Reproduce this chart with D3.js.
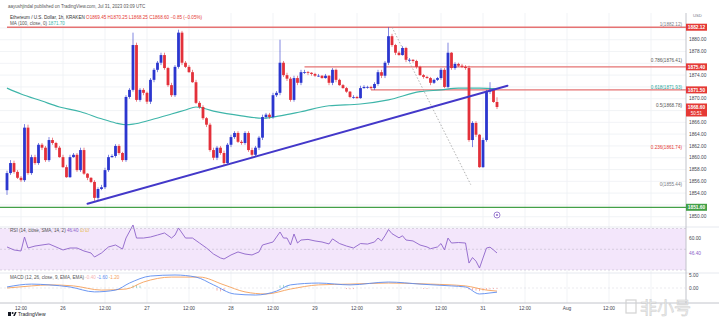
<!DOCTYPE html>
<html>
<head>
<meta charset="utf-8">
<script src="https://cdn.jsdelivr.net/npm/d3@7.9.0/dist/d3.min.js"></script>
<style>
  html, body { margin: 0; padding: 0; background: #fff; }
  svg { display: block; font-family: "Liberation Sans", Arial, sans-serif; }
</style>
</head>
<body>
<svg id="chart" width="719" height="326"></svg>
<script>
// ETH/USD 1h candles, first bar Jul 25 08:00 UTC
const firstBar = Date.UTC(2023, 6, 25, 8);
const HOUR = 3600e3;

const opens = [
  1854.5, 1857.4, 1859.1, 1857.6, 1856.6, 1856.2, 1865.1, 1857.4, 1860.1, 1859.1,
  1862.2, 1861.7, 1859.6, 1863.0, 1862.5, 1861.7, 1860.1, 1858.4, 1856.7, 1860.1,
  1860.5, 1857.9, 1861.3, 1857.3, 1856.6, 1855.9, 1853.2, 1854.7, 1855.0, 1857.9,
  1860.1, 1860.3, 1862.0, 1860.8, 1859.6, 1870.3, 1871.5, 1879.1, 1869.8, 1871.5,
  1871.0, 1869.5, 1873.2, 1874.9, 1876.1, 1877.4, 1875.2, 1872.3, 1870.6, 1875.4,
  1881.2, 1876.1, 1875.4, 1874.5, 1872.8, 1869.3, 1868.6, 1866.7, 1865.6, 1861.3,
  1860.0, 1861.7, 1860.8, 1859.1, 1862.2, 1863.5, 1864.2, 1862.7, 1862.5, 1864.2,
  1861.3, 1860.5, 1861.7, 1863.4, 1866.9, 1867.3, 1866.9, 1870.6, 1871.0, 1876.1,
  1874.0, 1873.4, 1869.8, 1873.5, 1872.7, 1874.5, 1874.5, 1874.4, 1874.2, 1873.9,
  1873.9, 1873.5, 1873.9, 1872.7, 1874.9, 1873.2, 1872.3, 1871.8, 1871.2, 1870.3,
  1870.3, 1870.1, 1871.8, 1872.0, 1872.0, 1871.8, 1872.5, 1874.5, 1873.9, 1876.1,
  1880.6, 1879.1, 1877.8, 1877.4, 1878.6, 1876.6, 1876.6, 1876.4, 1875.4, 1874.0,
  1873.7, 1873.5, 1872.7, 1873.2, 1873.5, 1874.9, 1872.0, 1877.8, 1875.2, 1875.9,
  1875.6, 1875.4, 1875.2, 1863.0, 1865.9, 1863.9, 1858.4, 1863.0, 1871.2, 1871.5,
  1869.45
];
const highs = [
  1857.8, 1859.6, 1859.5, 1857.9, 1856.9, 1865.7, 1865.6, 1860.5, 1860.5, 1862.5,
  1862.5, 1862.0, 1863.5, 1863.4, 1862.7, 1862.0, 1860.5, 1858.8, 1860.5, 1860.8,
  1860.8, 1861.7, 1861.7, 1857.4, 1856.7, 1856.2, 1855.0, 1855.4, 1858.3, 1860.5,
  1860.6, 1862.3, 1862.3, 1861.0, 1870.6, 1871.8, 1881.2, 1879.5, 1871.8, 1871.8,
  1871.2, 1873.5, 1875.2, 1876.4, 1877.8, 1877.8, 1875.4, 1872.7, 1875.7, 1881.7,
  1881.5, 1876.4, 1875.7, 1874.9, 1873.2, 1869.6, 1868.9, 1866.9, 1865.9, 1861.7,
  1862.0, 1862.0, 1861.2, 1862.5, 1863.9, 1864.5, 1864.5, 1863.0, 1864.5, 1864.5,
  1861.7, 1862.0, 1863.7, 1867.3, 1867.6, 1867.6, 1871.0, 1871.3, 1880.0, 1876.4,
  1874.4, 1873.7, 1873.9, 1873.9, 1874.9, 1874.9, 1874.7, 1874.5, 1874.4, 1874.2,
  1874.0, 1874.2, 1874.0, 1875.2, 1875.1, 1873.4, 1872.5, 1872.0, 1871.3, 1870.6,
  1870.5, 1872.2, 1872.3, 1872.2, 1872.2, 1872.8, 1874.9, 1874.9, 1876.4, 1882.1,
  1881.0, 1879.3, 1878.1, 1878.9, 1878.8, 1876.9, 1876.7, 1876.6, 1875.6, 1874.2,
  1873.9, 1873.7, 1873.4, 1873.7, 1875.2, 1875.2, 1879.5, 1877.9, 1876.2, 1876.1,
  1875.9, 1875.7, 1875.6, 1866.2, 1866.2, 1864.0, 1863.4, 1871.5, 1872.8, 1871.7,
  1870.25
];
const lows = [
  1853.7, 1857.1, 1857.3, 1856.4, 1855.9, 1855.9, 1857.1, 1857.1, 1858.8, 1858.8,
  1861.3, 1859.3, 1859.3, 1862.2, 1861.3, 1860.0, 1858.3, 1856.6, 1856.6, 1860.0,
  1857.6, 1857.6, 1857.1, 1856.2, 1855.7, 1852.7, 1852.8, 1854.5, 1854.7, 1857.6,
  1860.0, 1860.0, 1860.5, 1859.3, 1859.3, 1870.0, 1871.2, 1869.5, 1869.5, 1870.6,
  1869.1, 1869.1, 1872.8, 1874.5, 1875.7, 1874.9, 1872.0, 1870.3, 1870.3, 1875.1,
  1875.7, 1875.2, 1874.4, 1872.7, 1869.1, 1868.3, 1866.4, 1865.2, 1861.0, 1859.6,
  1859.6, 1860.5, 1858.6, 1858.8, 1861.8, 1863.2, 1862.5, 1862.2, 1862.2, 1861.0,
  1860.1, 1860.1, 1861.3, 1863.0, 1866.6, 1866.6, 1866.6, 1870.3, 1870.6, 1873.7,
  1873.0, 1869.5, 1869.5, 1872.3, 1872.3, 1874.2, 1874.0, 1873.9, 1873.7, 1873.7,
  1873.4, 1873.4, 1872.3, 1872.3, 1872.8, 1872.2, 1871.7, 1871.0, 1870.1, 1870.0,
  1870.0, 1870.0, 1871.7, 1871.7, 1871.5, 1871.5, 1872.2, 1873.5, 1873.5, 1875.7,
  1878.8, 1877.4, 1877.3, 1877.3, 1876.2, 1876.2, 1876.1, 1875.1, 1873.9, 1873.4,
  1873.4, 1872.3, 1872.5, 1873.0, 1873.2, 1871.8, 1871.8, 1874.9, 1874.9, 1875.4,
  1875.2, 1874.9, 1862.7, 1861.8, 1863.5, 1858.3, 1858.3, 1862.7, 1870.8, 1869.3,
  1868.25
];
const closes = [
  1857.4, 1859.1, 1857.6, 1856.6, 1856.2, 1865.1, 1857.4, 1860.1, 1859.1, 1862.2,
  1861.7, 1859.6, 1863.0, 1862.5, 1861.7, 1860.1, 1858.4, 1856.7, 1860.1, 1860.5,
  1857.9, 1861.3, 1857.3, 1856.6, 1855.9, 1853.2, 1854.7, 1855.0, 1857.9, 1860.1,
  1860.3, 1862.0, 1860.8, 1859.6, 1870.3, 1871.5, 1879.1, 1869.8, 1871.5, 1871.0,
  1869.5, 1873.2, 1874.9, 1876.1, 1877.4, 1875.2, 1872.3, 1870.6, 1875.4, 1881.2,
  1876.1, 1875.4, 1874.5, 1872.8, 1869.3, 1868.6, 1866.7, 1865.6, 1861.3, 1860.0,
  1861.7, 1860.8, 1859.1, 1862.2, 1863.5, 1864.2, 1862.7, 1862.5, 1864.2, 1861.3,
  1860.5, 1861.7, 1863.4, 1866.9, 1867.3, 1866.9, 1870.6, 1871.0, 1876.1, 1874.0,
  1873.4, 1869.8, 1873.5, 1872.7, 1874.5, 1874.5, 1874.4, 1874.2, 1873.9, 1873.9,
  1873.5, 1873.9, 1872.7, 1874.9, 1873.2, 1872.3, 1871.8, 1871.2, 1870.3, 1870.3,
  1870.1, 1871.8, 1872.0, 1872.0, 1871.8, 1872.5, 1874.5, 1873.9, 1876.1, 1880.6,
  1879.1, 1877.8, 1877.4, 1878.6, 1876.6, 1876.6, 1876.4, 1875.4, 1874.0, 1873.7,
  1873.5, 1872.7, 1873.2, 1873.5, 1874.9, 1872.0, 1877.8, 1875.2, 1875.9, 1875.6,
  1875.4, 1875.2, 1863.0, 1865.9, 1863.9, 1858.4, 1863.0, 1871.2, 1871.5, 1869.45,
  1868.60
];

// 100 SMA, read at bar indexes
const smaIdx = [0, 4, 10, 15, 21, 27, 31, 34, 36, 41, 47, 51, 54, 59, 67, 73, 78, 84, 92, 101, 109, 118, 124, 129, 135, 140];
const smaVal = [1871.8, 1870.8, 1869.6, 1868.6, 1867.8, 1866.6, 1865.9, 1865.6, 1865.7, 1866.4, 1867.4, 1868.1, 1868.6,
  1867.9, 1867.1, 1866.7, 1867.1, 1867.8, 1868.8, 1869.1, 1869.8, 1871.2, 1871.5, 1871.8, 1871.8, 1871.7];

// RSI(14)
const rsiIdx = [0, 2, 4, 5, 6, 8, 10, 12, 14, 16, 18, 20, 22, 24, 25, 27, 29, 31, 33, 34, 36, 37, 39, 41, 43, 45, 47, 48, 49, 51,
  53, 55, 57, 59, 61, 62, 64, 66, 68, 70, 72, 73, 76, 77, 78, 79, 80, 81, 82, 83, 84, 86, 88, 90, 92, 93, 95, 97, 99, 101,
  103, 105, 106, 107, 108, 109, 110, 112, 113, 114, 116, 118, 120, 121, 123, 124, 125, 126, 127, 129, 131, 132, 133, 134, 135, 136, 137, 138, 139, 140];
const rsiVal = [52.2, 49.3, 48.3, 61.8, 51.2, 53.1, 54.1, 55.1, 52.2, 49.3, 51.2, 51.2, 48.3, 46.4, 42.5, 46.4, 52.2, 54.1, 50.2, 60.8,
  73.4, 60.8, 60.8, 61.8, 63.7, 65.7, 60.8, 63.7, 70.5, 60.8, 60.8, 56.0, 51.2, 45.4, 41.6, 40.6, 44.5, 47.4, 45.4, 44.5,
  47.4, 54.1, 57.0, 61.8, 66.6, 60.8, 60.8, 54.1, 64.7, 56.0, 58.9, 59.5, 58.0, 57.0, 55.1, 60.0, 55.5, 53.1, 51.2, 55.5,
  55.0, 57.0, 60.8, 58.0, 63.0, 69.0, 65.0, 61.0, 63.0, 58.9, 58.0, 54.1, 52.2, 50.5, 52.2, 55.5, 49.3, 60.8, 56.0, 56.5,
  56.0, 36.7, 42.0, 38.5, 31.9, 41.6, 51.2, 52.0, 49.3, 46.4];

// MACD(12, 26, 9)
const macdIdx = [0, 7, 12, 18, 25, 31, 35, 41, 48, 54, 59, 65, 71, 77, 81, 89, 98, 109, 118, 127, 131, 135, 138, 140];
const macdVal = [0.4, 1.5, 1.2, 0.4, -1.5, -0.8, 1.9, 4.6, 5.0, 4.2, 1.2, -2.3, -2.7, -1.2, 1.2, 1.9, 1.2, 2.3, 1.5, 0.8, 0.4, -2.3, -1.9, -1.6];
const signalIdx = [0, 7, 12, 19, 27, 34, 39, 47, 55, 62, 68, 74, 81, 89, 98, 109, 121, 131, 137, 140];
const signalVal = [0.0, 0.8, 1.2, 0.8, -0.8, -0.4, 2.3, 4.2, 4.2, 1.2, -1.5, -2.3, -0.4, 1.2, 1.5, 1.9, 1.5, 0.8, -0.8, -1.2];
const histIdx = [36, 37, 38, 60, 61, 62, 78, 79, 80, 97, 98, 99, 119, 120, 132, 133, 134, 135, 136, 137, 138, 139, 140];
const histVal = [1.0, 1.2, 0.9, -1.0, -1.3, -1.1, 1.0, 1.2, 0.8, -0.4, -0.5, -0.4, -0.3, -0.4, -0.6, -0.9, -1.0, -1.2, -1.0, -0.7, -0.5, -0.4, -0.4];

// drawings
const trendIdx = [23, 143];
const trendVal = [1852.2, 1872.2];
const fibIdx = [110, 132.5];
const fibHigh = 1882.12, fibLow = 1855.44;
const fibLevels = [1, 0.786, 0.618, 0.5, 0.236, 0];
const fibColors = ['#787b86', '#555', '#26a69a', '#555', '#e53935', '#787b86'];
const redLines = [1882.12, 1875.40, 1871.50];
const redStart = [0, 85, 104];
const supportLine = 1851.60;

const priceTicks = [1850, 1852, 1854, 1856, 1858, 1860, 1862, 1864, 1866, 1868, 1870, 1872, 1874, 1876, 1878, 1880, 1882];

// ---------------------------------------------------------------
const svg = d3.select('#chart');
const right = 686;
const barTime = i => new Date(firstBar + i * HOUR);

const x = d3.scaleUtc()
  .domain([Date.UTC(2023, 6, 25, 6), Date.UTC(2023, 7, 2, 10)])
  .range([0, right]);
const y = d3.scaleLinear().domain([1848.43, 1884.53]).range([226, 13]);
const yRsi = d3.scaleLinear().domain([30, 70]).range([270, 228.5]);
const yMacd = d3.scaleLinear().domain([-5, 5]).range([301, 275]);

const defs = svg.append('defs');
defs.append('clipPath').attr('id', 'clipMain')
  .append('rect').attr('x', 0).attr('y', 13).attr('width', right).attr('height', 213);

svg.append('rect').attr('width', 719).attr('height', 326).attr('fill', '#fff');

// grid
const timeTicks = x.ticks(d3.utcHour.every(12));
svg.append('g').selectAll('line').data(timeTicks).join('line')
  .attr('x1', d => x(d)).attr('x2', d => x(d))
  .attr('y1', 13).attr('y2', 303)
  .attr('stroke', '#eef0f4').attr('stroke-width', 0.8);
svg.append('g').selectAll('line').data(priceTicks).join('line')
  .attr('x1', 0).attr('x2', right)
  .attr('y1', d => y(d)).attr('y2', d => y(d))
  .attr('stroke', '#eef0f4').attr('stroke-width', 0.8);

// RSI band
svg.append('rect').attr('x', 0).attr('width', right)
  .attr('y', yRsi(70)).attr('height', yRsi(30) - yRsi(70))
  .attr('fill', '#f3e6fb');
[70, 50, 30].forEach(v => {
  svg.append('line').attr('x1', 0).attr('x2', right)
    .attr('y1', yRsi(v)).attr('y2', yRsi(v))
    .attr('stroke', '#b8b0c4').attr('stroke-width', 0.5)
    .attr('stroke-dasharray', '2,2');
});

// pane separators and axes borders
[227, 273].forEach(v => svg.append('line').attr('x1', 0).attr('x2', 719)
  .attr('y1', v).attr('y2', v).attr('stroke', '#e0e3eb').attr('stroke-width', 0.8));
svg.append('line').attr('x1', 0).attr('x2', 719).attr('y1', 303).attr('y2', 303)
  .attr('stroke', '#b2b5be').attr('stroke-width', 0.8);
svg.append('line').attr('x1', right).attr('x2', right).attr('y1', 13).attr('y2', 303)
  .attr('stroke', '#b2b5be').attr('stroke-width', 0.8);
svg.append('line').attr('x1', 0).attr('x2', right).attr('y1', yMacd(0)).attr('y2', yMacd(0))
  .attr('stroke', '#d5d7dd').attr('stroke-width', 0.5).attr('stroke-dasharray', '2,2');

// main pane
const main = svg.append('g').attr('clip-path', 'url(#clipMain)');

// horizontal levels
redLines.forEach((v, k) => {
  main.append('line')
    .attr('x1', x(barTime(redStart[k]))).attr('x2', right)
    .attr('y1', y(v)).attr('y2', y(v))
    .attr('stroke', '#e57373').attr('stroke-width', 1.4);
});
main.append('line').attr('x1', 0).attr('x2', right)
  .attr('y1', y(supportLine)).attr('y2', y(supportLine))
  .attr('stroke', '#43a047').attr('stroke-width', 1.2);

// 100 SMA
const sma = smaIdx.map((d, k) => [barTime(d), smaVal[k]]);
main.append('path').datum(sma)
  .attr('fill', 'none').attr('stroke', '#3eb5a9').attr('stroke-width', 1.1)
  .attr('d', d3.line().x(d => x(d[0])).y(d => y(d[1])).curve(d3.curveMonotoneX));

// fib diagonal
main.append('line')
  .attr('x1', x(barTime(fibIdx[0]))).attr('y1', y(fibHigh))
  .attr('x2', x(barTime(fibIdx[1]))).attr('y2', y(fibLow))
  .attr('stroke', '#9e9e9e').attr('stroke-width', 0.8).attr('stroke-dasharray', '1.5,1.8');

// candles
const bars = d3.range(opens.length);
const upCol = '#2b36cf', downCol = '#e3303a';
const colOf = i => closes[i] >= opens[i] ? upCol : downCol;
main.append('g').selectAll('line').data(bars).join('line')
  .attr('x1', i => x(barTime(i))).attr('x2', i => x(barTime(i)))
  .attr('y1', i => y(highs[i])).attr('y2', i => y(lows[i]))
  .attr('stroke', colOf).attr('stroke-width', 0.6);
main.append('g').selectAll('rect').data(bars).join('rect')
  .attr('x', i => x(barTime(i)) - 1.4).attr('width', 2.8)
  .attr('y', i => y(Math.max(opens[i], closes[i])))
  .attr('height', i => Math.max(0.8, y(Math.min(opens[i], closes[i])) - y(Math.max(opens[i], closes[i]))))
  .attr('fill', colOf);

// trend line
main.append('line')
  .attr('x1', x(barTime(trendIdx[0]))).attr('y1', y(trendVal[0]))
  .attr('x2', x(barTime(trendIdx[1]))).attr('y2', y(trendVal[1]))
  .attr('stroke', '#4338c9').attr('stroke-width', 1.9).attr('stroke-linecap', 'round');

// event marker
svg.append('circle').attr('cx', x(barTime(140))).attr('cy', 215).attr('r', 3)
  .attr('fill', '#fff').attr('stroke', '#9575cd').attr('stroke-width', 0.9);
svg.append('circle').attr('cx', x(barTime(140))).attr('cy', 215).attr('r', 1.1)
  .attr('fill', '#9575cd');

// fib labels
fibLevels.forEach((lv, k) => {
  const v = fibLow + (fibHigh - fibLow) * lv;
  svg.append('text').attr('x', 682).attr('y', y(v) + (lv === 1 ? -1.5 : 1.5))
    .attr('text-anchor', 'end').attr('font-size', 4.6).attr('fill', fibColors[k])
    .text(`${lv}(${v.toFixed(2)})`);
});

// RSI
const rsi = rsiIdx.map((d, k) => [barTime(d), rsiVal[k]]);
svg.append('path').datum(rsi)
  .attr('fill', 'none').attr('stroke', '#8d63c9').attr('stroke-width', 0.9)
  .attr('d', d3.line().x(d => x(d[0])).y(d => yRsi(d[1])));

// MACD
svg.append('g').selectAll('rect').data(histIdx).join('rect')
  .attr('x', (d) => x(barTime(d)) - 0.5).attr('width', 1)
  .attr('y', (d, k) => Math.min(yMacd(0), yMacd(histVal[k])))
  .attr('height', (d, k) => Math.abs(yMacd(histVal[k]) - yMacd(0)))
  .attr('fill', (d, k) => histVal[k] >= 0 ? '#a5d9d2' : '#f6b3b1');
const macdLine = d3.line().x(d => x(d[0])).y(d => yMacd(d[1])).curve(d3.curveMonotoneX);
svg.append('path').datum(signalIdx.map((d, k) => [barTime(d), signalVal[k]]))
  .attr('fill', 'none').attr('stroke', '#f5a05a').attr('stroke-width', 0.9).attr('d', macdLine);
svg.append('path').datum(macdIdx.map((d, k) => [barTime(d), macdVal[k]]))
  .attr('fill', 'none').attr('stroke', '#5b8bef').attr('stroke-width', 0.9).attr('d', macdLine);

// price axis; labels under a price box are hidden like on TradingView
const lastClose = closes[closes.length - 1];
const boxes = redLines.concat([supportLine]).map(v => [y(v) - 3.5, y(v) + 3.5])
  .concat([[y(lastClose) - 3.5, y(lastClose) + 9.5]]);
const free = yy => boxes.every(b => yy + 2.5 < b[0] || yy - 2.5 > b[1]);
const axisText = (yy, txt, col) => svg.append('text').attr('x', 689).attr('y', yy + 1.6)
  .attr('font-size', 4.8).attr('fill', col || '#434651').text(txt);
priceTicks.forEach(v => { if (y(v) > 20 && y(v) < 224 && free(y(v))) axisText(y(v), v.toFixed(2)); });
axisText(yRsi(60), '60.00');
axisText(yRsi(46.4), '46.40', '#8d63c9');
axisText(yMacd(5), '5.00');
axisText(yMacd(0), '0.00');

const priceBox = (v, col, txt, sub) => {
  const h = sub ? 13 : 7;
  svg.append('rect').attr('x', right).attr('y', y(v) - 3.5).attr('width', 21).attr('height', h)
    .attr('fill', col);
  svg.append('text').attr('x', right + 10.5).attr('y', y(v) + 1.7).attr('text-anchor', 'middle')
    .attr('font-size', 4.8).attr('font-weight', 'bold').attr('fill', '#fff').text(txt);
  if (sub) svg.append('text').attr('x', right + 10.5).attr('y', y(v) + 7.6).attr('text-anchor', 'middle')
    .attr('font-size', 4.5).attr('fill', '#fff').text(sub);
};
redLines.forEach(v => priceBox(v, '#e53935', v.toFixed(2)));
priceBox(supportLine, '#43a047', supportLine.toFixed(2));
priceBox(lastClose, '#e53935', lastClose.toFixed(2), '50:51');
svg.append('text').attr('x', 693).attr('y', 17).attr('font-size', 4.2).attr('fill', '#787b86').text('USD');

// time axis
const fmt = d => d.getUTCHours() === 12 ? '12:00'
  : (d.getUTCDate() === 1 ? d3.utcFormat('%b')(d) : String(d.getUTCDate()));
svg.append('g').selectAll('text').data(timeTicks.filter(d => x(d) > 10 && x(d) < 630)).join('text')
  .attr('x', d => x(d)).attr('y', 310).attr('text-anchor', 'middle')
  .attr('font-size', 4.8).attr('fill', '#434651').text(fmt);

// header texts
svg.append('text').attr('x', 8).attr('y', 8).attr('font-size', 4.5).attr('fill', '#555')
  .text('aayushjindal published on TradingView.com, Jul 31, 2023 03:09 UTC');
const h1 = svg.append('text').attr('x', 10).attr('y', 19).attr('font-size', 4.6).attr('fill', '#333');
h1.append('tspan').text('Ethereum / U.S. Dollar, 1h, KRAKEN  ');
h1.append('tspan').attr('fill', '#e53935')
  .text('O1869.45 H1870.25 L1868.25 C1868.60 −0.85 (−0.05%)');
svg.append('text').attr('x', 10).attr('y', 24.5).attr('font-size', 4.6).attr('fill', '#555')
  .text('MA (100, close, 0)  ')
  .append('tspan').attr('fill', '#3eb5a9').text(smaVal[smaVal.length - 1].toFixed(2));
const h2 = svg.append('text').attr('x', 10).attr('y', 232).attr('font-size', 4.6).attr('fill', '#555');
h2.append('tspan').text('RSI (14, close, SMA, 14, 2)  ');
h2.append('tspan').attr('fill', '#8d63c9').text(rsiVal[rsiVal.length - 1].toFixed(2) + '  ');
h2.append('tspan').attr('fill', '#e6b422').text('∅  ∅');
const h3 = svg.append('text').attr('x', 10).attr('y', 279).attr('font-size', 4.6).attr('fill', '#555');
h3.append('tspan').text('MACD (12, 26, close, 9, EMA, EMA)  ');
h3.append('tspan').attr('fill', '#f6b3b1').text(histVal[histVal.length - 1].toFixed(2) + '  ');
h3.append('tspan').attr('fill', '#5b8bef').text(macdVal[macdVal.length - 1].toFixed(2) + '  ');
h3.append('tspan').attr('fill', '#f5a05a').text(signalVal[signalVal.length - 1].toFixed(2));

// TradingView logo
const logo = svg.append('g').attr('transform', 'translate(8,312)');
logo.append('rect').attr('x', 0).attr('y', 0).attr('width', 3).attr('height', 4).attr('fill', '#131722');
logo.append('circle').attr('cx', 4.6).attr('cy', 1).attr('r', 1).attr('fill', '#131722');
logo.append('path').attr('d', 'M5.2 4 L7 0 L8.6 0 L6.8 4 Z').attr('fill', '#131722');
svg.append('text').attr('x', 18).attr('y', 316).attr('font-size', 5).attr('fill', '#131722').text('TradingView');

// watermark
const wm = svg.append('g').attr('opacity', 0.9);
wm.append('rect').attr('x', 626).attr('y', 300).attr('width', 10).attr('height', 13)
  .attr('fill', 'none').attr('stroke', '#cfcfcf').attr('stroke-width', 1.2);
wm.append('text').attr('x', 640).attr('y', 313.5)
  .attr('font-family', '"Noto Sans CJK SC", sans-serif').attr('font-size', 17)
  .attr('fill', '#ececec').attr('stroke', '#c9c9c9').attr('stroke-width', 0.5).text('非小号');
</script>
</body>
</html>
